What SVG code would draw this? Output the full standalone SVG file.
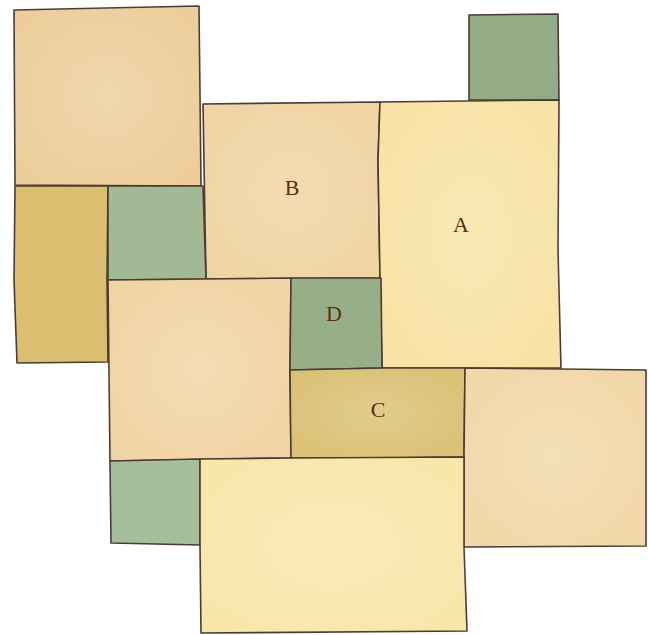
<svg xmlns="http://www.w3.org/2000/svg" width="648" height="635" viewBox="0 0 648 635">
<style>
.t{stroke:#4b3b34;stroke-width:1.6;stroke-linejoin:round}
.lbl{font-family:"Liberation Serif","DejaVu Serif",serif;font-size:22px;fill:#5c2e0a;text-anchor:middle}
</style>
<defs>
<radialGradient id="glow" cx="0.5" cy="0.5" r="0.6">
<stop offset="0" stop-color="#fff" stop-opacity="0.18"/>
<stop offset="1" stop-color="#fff" stop-opacity="0"/>
</radialGradient>
</defs>
<rect width="648" height="635" fill="#fff"/>
<g id="tile-topleft"><path class="t" fill="#EDCE9B" d="M14,10 L199,6 L201,186 L15,185 Z"/><path fill="url(#glow)" d="M14,10 L199,6 L201,186 L15,185 Z"/></g>
<g id="tile-topright-green"><path class="t" fill="#93AC86" d="M469,15 L558,14 L559,100 L469,100 Z"/></g>
<g id="tile-B"><path class="t" fill="#F0D4A3" d="M203,104 L380,102 L378,160 L380,278 L206,279 Z"/><path fill="url(#glow)" d="M203,104 L380,102 L380,278 L206,279 Z"/><text class="lbl" x="292" y="195">B</text></g>
<g id="tile-A"><path class="t" fill="#F8E3A5" d="M380,102 L559,100 L558,250 L561,368 L382,368 L380,278 L378,160 Z"/><path fill="url(#glow)" d="M380,102 L559,100 L561,368 L382,368 Z"/><text class="lbl" x="461" y="232">A</text></g>
<g id="tile-olive-left"><path class="t" fill="#DBBE70" d="M15,186 L108,186 L107,280 L108,362 L17,363 L14,280 Z"/></g>
<g id="tile-green-midleft"><path class="t" fill="#A2B996" d="M108,186 L203,186 L206,279 L108,280 Z"/></g>
<g id="tile-tan-mid"><path class="t" fill="#F1D4A4" d="M108,280 L206,279 L291,278 L290,370 L291,458 L110,461 Z"/><path fill="url(#glow)" d="M108,280 L291,278 L291,458 L110,461 Z"/></g>
<g id="tile-D"><path class="t" fill="#96AF88" d="M291,278 L381,278 L382,368 L290,370 Z"/><text class="lbl" x="334" y="321">D</text></g>
<g id="tile-C"><path class="t" fill="#DBC175" d="M290,370 L382,368 L465,368 L464,457 L381,458 L291,458 Z"/><path fill="url(#glow)" d="M290,370 L465,368 L464,457 L291,458 Z"/><text class="lbl" x="378" y="417">C</text></g>
<g id="tile-tan-right"><path class="t" fill="#F2D8A8" d="M465,368 L560,369 L646,370 L646,546 L464,547 L464,457 Z"/><path fill="url(#glow)" d="M465,368 L646,370 L646,546 L464,547 Z"/></g>
<g id="tile-green-bottomleft"><path class="t" fill="#A5BE9C" d="M110,461 L200,459 L200,545 L111,543 Z"/></g>
<g id="tile-yellow-bottom"><path class="t" fill="#F9E6AA" d="M200,459 L291,458 L464,457 L464,547 L467,631 L201,633 L200,545 Z"/><path fill="url(#glow)" d="M200,459 L464,457 L467,631 L201,633 Z"/></g>
</svg>
